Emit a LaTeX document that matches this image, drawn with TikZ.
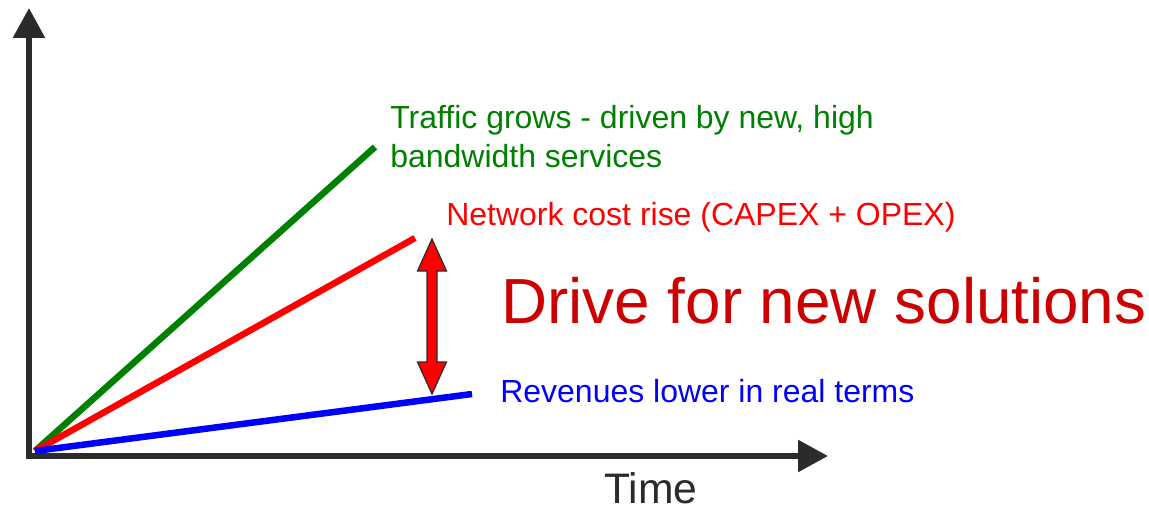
\documentclass[tikz,border=0pt]{standalone}
\usepackage{fontspec}
\setmainfont{Liberation Sans}
\usetikzlibrary{arrows.meta}
\definecolor{axisgray}{RGB}{43,43,43}
\definecolor{trafficgreen}{RGB}{0,128,0}
\definecolor{drivered}{RGB}{204,0,0}
\tikzset{
  axis/.style={draw=axisgray, line width=3.4pt, line join=miter,
    {Triangle[length=17pt,width=17.5pt]}-{Triangle[length=17pt,width=17.5pt]}},
  trend/.style={line width=3.7pt},
  label/.style={anchor=base west, inner sep=0pt, font=\fontsize{18.2}{22.1}\selectfont},
  gaparrow/.style={fill=red, draw=axisgray, line width=0.7pt, line join=miter}
}
\begin{document}
\begin{tikzpicture}[x=0.02cm, y=-0.02cm]
	\useasboundingbox (0,0) rectangle (1149,510);

	\coordinate (ytip) at (29,8);
	\coordinate (corner) at (29,456);
	\coordinate (xtip) at (828,456);
	\draw [axis] (ytip) -- (corner) -- (xtip);

	\coordinate (o) at (35,451);
	\coordinate (tr) at (375,147);
	\coordinate (co) at (415,238);
	\coordinate (re) at (472,394);

        \draw [trend, trafficgreen] (o) -- (tr);
        \draw [trend, red] (o) -- (co);
        \draw [trend, blue] (o) -- (re);

	% arrow between cost and revenue
	\draw [gaparrow] (432,239) -- (446.5,271) -- (437,271) -- (437,362) -- (446.5,362)
	  -- (432,394) -- (417.5,362) -- (427,362) -- (427,271) -- (417.5,271) -- cycle;

        \node at (390,167) [label, text=trafficgreen, align=left] (trafficlbl) {Traffic grows - driven by new, high\\bandwidth services};
        \node at (446,225) [label, text=red] (costlbl) {Network cost rise (CAPEX + OPEX)};
        \node at (500,402) [label, text=blue] (revlbl) {Revenues lower in real terms};
        \node at (501,323) [label, text=drivered, font=\fontsize{36.3}{40}\selectfont] (drive) {Drive for new solutions};
        \node at (604,503) [label, text=axisgray, font=\fontsize{24.3}{28}\selectfont] (time) {Time};
    \end{tikzpicture}
\end{document}
